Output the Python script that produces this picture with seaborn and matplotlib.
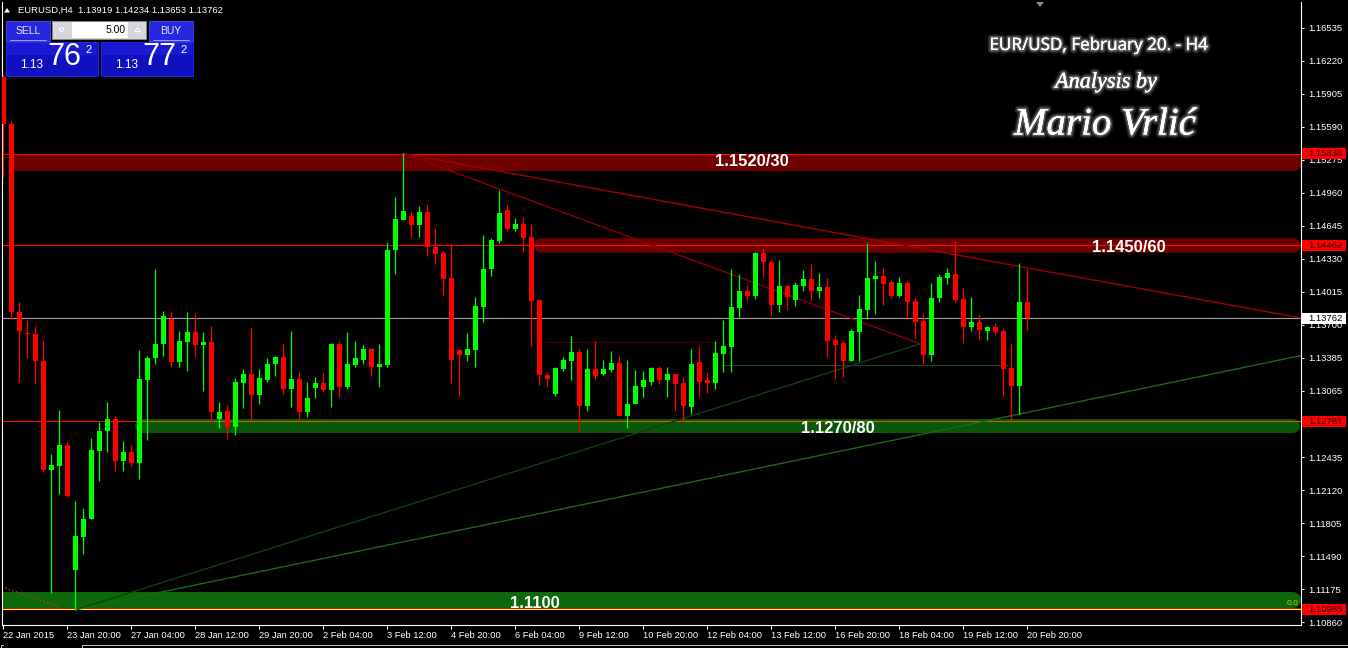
import numpy as np
import pandas as pd
import seaborn as sns
import matplotlib.pyplot as plt
import matplotlib.patheffects as pe
from matplotlib.patches import Rectangle, Polygon

# EURUSD H4 candles, 22 Jan 2015 -> 20 Feb 2015 20:00
opens = [1.1607, 1.1562, 1.1382, 1.1362, 1.1361, 1.1336, 1.1232, 1.1235, 1.1255, 1.1136,
         1.1168, 1.1185, 1.1250, 1.1269, 1.1280, 1.1240, 1.1249, 1.1238, 1.1317, 1.1338,
         1.1352, 1.1376, 1.1335, 1.1354, 1.1363, 1.1351, 1.1354, 1.1280, 1.1288, 1.1273,
         1.1315, 1.1323, 1.1303, 1.1317, 1.1333, 1.1339, 1.1309, 1.1318, 1.1287, 1.1310,
         1.1315, 1.1308, 1.1352, 1.1311, 1.1332, 1.1337, 1.1347, 1.1330, 1.1332, 1.1442,
         1.1470, 1.1474, 1.1465, 1.1478, 1.1444, 1.1439, 1.1415, 1.1346, 1.1341, 1.1346,
         1.1387, 1.1423, 1.1450, 1.1480, 1.1462, 1.1466, 1.1454, 1.1394, 1.1322, 1.1304,
         1.1328, 1.1336, 1.1344, 1.1293, 1.1328, 1.1323, 1.1327, 1.1334, 1.1283, 1.1295,
         1.1311, 1.1316, 1.1329, 1.1317, 1.1323, 1.1315, 1.1292, 1.1335, 1.1317, 1.1315,
         1.1342, 1.1349, 1.1386, 1.1402, 1.1398, 1.1439, 1.1430, 1.1389, 1.1407, 1.1394,
         1.1407, 1.1414, 1.1402, 1.1406, 1.1356, 1.1353, 1.1336, 1.1363, 1.1384, 1.1414,
         1.1417, 1.1411, 1.1398, 1.1410, 1.1393, 1.1374, 1.1341, 1.1396, 1.1415, 1.1419,
         1.1395, 1.1368, 1.1373, 1.1364, 1.1368, 1.1364, 1.1329, 1.1312, 1.13919]
highs = [1.1609, 1.1565, 1.1392, 1.1375, 1.1369, 1.1356, 1.1247, 1.1289, 1.1258, 1.1202,
         1.1195, 1.1262, 1.1277, 1.1296, 1.1283, 1.1259, 1.1255, 1.1346, 1.1340, 1.1423,
         1.1383, 1.1383, 1.1364, 1.1382, 1.1381, 1.1363, 1.1369, 1.1296, 1.1294, 1.1319,
         1.1328, 1.1368, 1.1328, 1.1338, 1.1340, 1.1353, 1.1364, 1.1326, 1.1316, 1.1320,
         1.1325, 1.1353, 1.1355, 1.1363, 1.1355, 1.1351, 1.1348, 1.1352, 1.1449, 1.1492,
         1.1534, 1.1479, 1.1484, 1.1485, 1.1463, 1.1441, 1.1447, 1.1347, 1.1362, 1.1397,
         1.1456, 1.1453, 1.1499, 1.1485, 1.1472, 1.1473, 1.1466, 1.1394, 1.1325, 1.1330,
         1.1339, 1.1359, 1.1347, 1.1347, 1.1355, 1.1337, 1.1345, 1.1341, 1.1337, 1.1327,
         1.1326, 1.1330, 1.1331, 1.1330, 1.1323, 1.1320, 1.1347, 1.1350, 1.1325, 1.1355,
         1.1375, 1.1423, 1.1419, 1.1408, 1.1440, 1.1443, 1.1432, 1.1432, 1.1408, 1.1411,
         1.1422, 1.1428, 1.1420, 1.1415, 1.1360, 1.1356, 1.1366, 1.1399, 1.1448, 1.1431,
         1.1425, 1.1413, 1.1416, 1.1412, 1.1396, 1.1381, 1.1410, 1.1419, 1.1424, 1.1450,
         1.1405, 1.1397, 1.1380, 1.1369, 1.1372, 1.1367, 1.1353, 1.1429, 1.14234]
lows = [1.1511, 1.1376, 1.1316, 1.1338, 1.1314, 1.1231, 1.1114, 1.1209, 1.1206, 1.1098,
        1.1151, 1.1185, 1.1221, 1.1249, 1.1231, 1.1231, 1.1235, 1.1223, 1.1260, 1.1333,
        1.1340, 1.1330, 1.1330, 1.1326, 1.1339, 1.1307, 1.1276, 1.1272, 1.1261, 1.1265,
        1.1291, 1.1279, 1.1295, 1.1316, 1.1321, 1.1304, 1.1292, 1.1279, 1.1282, 1.1300,
        1.1306, 1.1292, 1.1301, 1.1309, 1.1330, 1.1333, 1.1321, 1.1311, 1.1330, 1.1419,
        1.1470, 1.1454, 1.1454, 1.1436, 1.1428, 1.1398, 1.1315, 1.1302, 1.1336, 1.1330,
        1.1373, 1.1417, 1.1448, 1.1460, 1.1460, 1.1440, 1.1350, 1.1313, 1.1311, 1.1302,
        1.1326, 1.1317, 1.1269, 1.1288, 1.1317, 1.1322, 1.1325, 1.1283, 1.1272, 1.1295,
        1.1301, 1.1313, 1.1314, 1.1301, 1.1288, 1.1278, 1.1285, 1.1301, 1.1305, 1.1309,
        1.1325, 1.1325, 1.1378, 1.1393, 1.1395, 1.1416, 1.1379, 1.1382, 1.1384, 1.1388,
        1.1402, 1.1394, 1.1396, 1.1339, 1.1318, 1.1320, 1.1336, 1.1336, 1.1376, 1.1380,
        1.1389, 1.1396, 1.1397, 1.1377, 1.1358, 1.1333, 1.1336, 1.1392, 1.1409, 1.1392,
        1.1353, 1.1364, 1.1356, 1.1356, 1.1360, 1.1302, 1.1278, 1.1285, 1.13653]
closes = [1.1562, 1.1382, 1.1364, 1.1361, 1.1336, 1.1232, 1.1236, 1.1255, 1.1207, 1.1169,
          1.1185, 1.1251, 1.1269, 1.1280, 1.1240, 1.1249, 1.1238, 1.1318, 1.1338, 1.1352,
          1.1379, 1.1335, 1.1355, 1.1363, 1.1351, 1.1354, 1.1287, 1.1287, 1.1273, 1.1316,
          1.1323, 1.1303, 1.1319, 1.1333, 1.1339, 1.1309, 1.1318, 1.1287, 1.1300, 1.1315,
          1.1308, 1.1352, 1.1311, 1.1333, 1.1338, 1.1347, 1.1330, 1.1333, 1.1442, 1.1471,
          1.1479, 1.1465, 1.1478, 1.1444, 1.1438, 1.1414, 1.1337, 1.1341, 1.1347, 1.1388,
          1.1423, 1.1451, 1.1477, 1.1462, 1.1466, 1.1453, 1.1393, 1.1322, 1.1318, 1.1329,
          1.1337, 1.1344, 1.1293, 1.1328, 1.1321, 1.1328, 1.1334, 1.1283, 1.1295, 1.1312,
          1.1317, 1.1329, 1.1317, 1.1323, 1.1314, 1.1293, 1.1333, 1.1316, 1.1315, 1.1343,
          1.1350, 1.1387, 1.1402, 1.1398, 1.1439, 1.1430, 1.1389, 1.1407, 1.1397, 1.1408,
          1.1414, 1.1402, 1.1406, 1.1355, 1.1351, 1.1336, 1.1364, 1.1385, 1.1415, 1.1417,
          1.1409, 1.1398, 1.1410, 1.1392, 1.1373, 1.1341, 1.1396, 1.1416, 1.1420, 1.1394,
          1.1368, 1.1373, 1.1365, 1.1368, 1.1363, 1.1328, 1.1312, 1.1392, 1.13762]

# time axis: one label every 8 bars
time_ticks = [0, 8, 16, 24, 32, 40, 48, 56, 64, 72, 80, 88, 96, 104, 112, 120, 128]
time_labels = ["22 Jan 2015", "23 Jan 20:00", "27 Jan 04:00", "28 Jan 12:00", "29 Jan 20:00",
               "2 Feb 04:00", "3 Feb 12:00", "4 Feb 20:00", "6 Feb 04:00", "9 Feb 12:00",
               "10 Feb 20:00", "12 Feb 04:00", "13 Feb 12:00", "16 Feb 20:00", "18 Feb 04:00",
               "19 Feb 12:00", "20 Feb 20:00"]

# price scale labels (MT4 step 0.00315); the 1.12750 one is hidden under the 1.12781 marker
price_ticks = [1.16535, 1.16220, 1.15905, 1.15590, 1.15275, 1.14960, 1.14645, 1.14330,
               1.14015, 1.13700, 1.13385, 1.13070, 1.12435, 1.12120, 1.11805, 1.11490,
               1.11175, 1.10860]
price_labels = ["1.16535", "1.16220", "1.15905", "1.15590", "1.15275", "1.14960", "1.14645",
                "1.14330", "1.14015", "1.13700", "1.13385", "1.13065", "1.12435",
                "1.12120", "1.11805", "1.11490", "1.11175", "1.10860"]

# support / resistance zones
zone_names = ["1.1520/30", "1.1450/60", "1.1270/80", "1.1100"]
zone_mid = [1.1526, 1.14466, 1.12731, 1.11075]
zone_start = [1.65, 67.2, 17.3, -3.0]
zone_label_x = [93.6, 140.7, 104.3, 66.5]
zone_label_y = [1.15256, 1.14435, 1.12707, 1.11046]

# marked price levels on the right scale
level_prices = [1.15336, 1.14462, 1.13762, 1.12781, 1.10985]
level_texts = ["1.15336", "1.14462", "1.13762", "1.12781", "1.10985"]

# trend lines (bar index, price)
red_ray_x, red_ray_y = [50, 128], [1.15336, 1.14245]
red_seg_x, red_seg_y = [50, 114.6], [1.15336, 1.1352]
green_seg_x, green_seg_y = [9, 114.6], [1.1098, 1.1352]
green_ray_x, green_ray_y = [9, 127], [1.1098, 1.1285]

sns.set_theme(style="dark", rc={"axes.facecolor": "black", "figure.facecolor": "black"})
plt.rcParams['font.family'] = ['Liberation Sans', 'DejaVu Sans']

W, H = 1348, 648
fig = plt.figure(figsize=(W / 100, H / 100), dpi=100)
fig.patch.set_facecolor("black")
ax = fig.add_axes([2 / W, 1 - 625 / H, 1299 / W, 623 / H])
ax.set_facecolor("black")
x_right = 162.2
ax.set_xlim(-0.1625, x_right)
ax.set_ylim(1.10836, 1.16783)

# zones drawn as thick rounded bars
zone_colors = ["#6e0000", "#6e0000", "#0a560a", "#0b680b"]
zone_px = [17, 14.5, 14, 16]
for y, x0, c, w in zip(zone_mid, zone_start, zone_colors, zone_px):
    ax.plot([x0, 161.2], [y, y], color=c, lw=w * 0.72, solid_capstyle="round", zorder=1)
for name, lx, ly in zip(zone_names, zone_label_x, zone_label_y):
    ax.text(lx, ly, name, color="white", fontsize=12, fontweight="bold",
            ha="center", va="center", zorder=7)

# horizontal levels
ax.axhline(level_prices[0], color="#ff0000", lw=0.8, zorder=2)
ax.axhline(level_prices[1], color="#ff0000", lw=0.8, zorder=2)
ax.axhline(level_prices[2], color="#a0a0a0", lw=0.8, zorder=2)
ax.plot([-1, 16.5], [level_prices[3]] * 2, color="#ff0000", lw=0.8, zorder=2)
ax.plot([16.5, 170], [level_prices[3]] * 2, color="#c86400", lw=0.8, zorder=2)
ax.axhline(1.1100, color="#d00000", lw=0.8, zorder=2)
ax.axhline(level_prices[4], color="#ffff00", lw=0.8, zorder=2)
ax.text(161.9, 1.11037, "0.0", color="#c0d000", fontsize=6, ha="right", va="center", zorder=7)

# faint horizontal guides
ax.plot([67.9, 90], [1.13542, 1.13542], color="#4a0000", lw=0.8, zorder=2)
ax.plot([89.7, 125.6], [1.13315, 1.13315], color="#1e4a1e", lw=0.8, zorder=2)
ax.plot([-0.2, 7.1], [1.1120, 1.1101], color="#d03c00", lw=1, ls=":", zorder=2)


def ray(xs, ys):
    k = (ys[1] - ys[0]) / (xs[1] - xs[0])
    return [xs[0], x_right + 1], [ys[0], ys[0] + k * (x_right + 1 - xs[0])]


rx, ry = ray(red_ray_x, red_ray_y)
gx, gy = ray(green_ray_x, green_ray_y)
sns.lineplot(x=rx, y=ry, ax=ax, color="#a00000", lw=1.0, zorder=3)
sns.lineplot(x=red_seg_x, y=red_seg_y, ax=ax, color="#8b0000", lw=1.0, zorder=3)
sns.lineplot(x=green_seg_x, y=green_seg_y, ax=ax, color="#0f3f0f", lw=1.0, zorder=3)
sns.lineplot(x=gx, y=gy, ax=ax, color="#1a6a1a", lw=1.0, zorder=3)

# candles
df = pd.DataFrame({"open": opens, "high": highs, "low": lows, "close": closes})
df["bar"] = np.arange(len(df))
col = np.where(df["close"] > df["open"], "#00ff00", "#ff0000")
ax.vlines(df["bar"], df["low"], df["high"], colors=col, lw=0.9, zorder=4)
body_lo = df[["open", "close"]].min(axis=1)
body_h = (df["close"] - df["open"]).abs().clip(lower=0.0001)
ax.bar(df["bar"], body_h, bottom=body_lo, width=0.625, color=col, lw=0, zorder=5)

# axes styling
for s in ["left", "right", "bottom"]:
    ax.spines[s].set_color("white")
    ax.spines[s].set_linewidth(0.8)
ax.spines["top"].set_visible(False)
ax.grid(False)
ax.yaxis.tick_right()
ax.set_yticks(price_ticks)
ax.set_yticklabels(price_labels)
ax.set_xticks(time_ticks)
ax.set_xticklabels(time_labels, ha="left")
ax.tick_params(axis="y", colors="white", labelsize=6.8, length=2.5, width=0.8, pad=3,
               direction="out", right=True, left=False)
ax.tick_params(axis="x", colors="white", labelsize=6.7, length=2.9, width=0.8, pad=1.2,
               direction="out", bottom=True)
ax.set_xlabel("")
ax.set_ylabel("")

box_fc = ["#ff0000", "#ff0000", "#ffffff", "#ff0000", "#ff0000"]
box_tc = ["#300000", "#300000", "#000000", "#300000", "#300000"]
ytr = ax.get_yaxis_transform()
for p, t, fc, tc in zip(level_prices, level_texts, box_fc, box_tc):
    ax.add_patch(Rectangle((1.0008, p - 0.000525), 0.0339, 0.00105, transform=ytr,
                           fc=fc, ec="none", clip_on=False, zorder=10))
    ax.text(1.0054, p, t, transform=ytr, color=tc, fontsize=6.8, ha="left", va="center",
            clip_on=False, zorder=11)

# screen overlay (header, one-click panel, title)
ov = fig.add_axes([0, 0, 1, 1], zorder=5)
ov.set_xlim(0, W)
ov.set_ylim(H, 0)
ov.axis("off")
ov.patch.set_alpha(0)

ov.add_patch(Polygon([(4, 12.5), (10, 12.5), (7, 8)], closed=True, fc="white", ec="none"))
ov.text(18, 10.5, "EURUSD,H4  1.13919 1.14234 1.13653 1.13762", color="white",
        fontsize=6.8, ha="left", va="center")

# sell / buy buttons
for x0 in [6, 149]:
    ov.add_patch(Rectangle((x0, 21), 44, 20, fc="#2626dc", ec="#4a4af0", lw=0.6))
    ov.plot([x0 + 4, x0 + 40], [39.5, 39.5], color="#9a9aff", lw=0.7)
ov.text(28, 30.5, "SELL", color="#e6e6ff", fontsize=7.5, ha="center", va="center")
ov.text(171, 30.5, "BUY", color="#e6e6ff", fontsize=7.5, ha="center", va="center")
ov.add_patch(Rectangle((52, 21), 94, 18, fc="#d6d6dc", ec="#8a8a8a", lw=0.6))
ov.add_patch(Rectangle((72, 22), 56, 16, fc="white", ec="none"))
ov.add_patch(Polygon([(59, 28.5), (64, 28.5), (61.5, 31.5)], closed=True, fc="#5570a8"))
ov.add_patch(Polygon([(135, 31.5), (140, 31.5), (137.5, 28.5)], closed=True, fc="#5570a8"))
ov.text(126, 30, "5.00", color="black", fontsize=7.5, ha="right", va="center")

for x0, big in [(6, "76"), (101, "77")]:
    ov.add_patch(Rectangle((x0, 42), 92, 34, fc="#1010c0", ec="#2a2aff", lw=0.6))
    ov.add_patch(Rectangle((x0 + 1, 43), 90, 12, fc="#1a1ad2", ec="none"))
    ov.text(x0 + 14, 64.5, "1.13", color="white", fontsize=8.5, ha="left", va="center")
    ov.text(x0 + 41, 57, big, color="white", fontsize=22, ha="left", va="center")
    ov.text(x0 + 79, 50, "2", color="white", fontsize=8, ha="left", va="center")

# chart-shift marker and bottom tab strip
ov.add_patch(Polygon([(1036, 2), (1044, 2), (1040, 7)], closed=True, fc="#8a8a8a", ec="none"))
ov.plot([82, 82, W], [648, 645, 645], color="#c8c8c8", lw=0.7)
ov.plot([0.5, 0.5, 3], [648, 645, 645], color="#c8c8c8", lw=0.7)

glow = [pe.withStroke(linewidth=5, foreground="white", alpha=0.12),
        pe.withStroke(linewidth=2.5, foreground="white", alpha=0.25), pe.Normal()]
ov.text(1099, 46, "EUR/USD, February 20. - H4", color="white", fontsize=12.3,
        family=["Open Sans", "DejaVu Sans"], ha="center", va="center", path_effects=glow)
ov.text(1106, 83, "Analysis by", color="white", fontsize=16, style="italic",
        family=["Liberation Serif", "DejaVu Serif"], ha="center", va="center",
        path_effects=glow)
ov.text(1105, 125, "Mario Vrlić", color="white", fontsize=28, style="italic",
        family=["Liberation Serif", "DejaVu Serif"], ha="center", va="center",
        path_effects=glow)

fig.savefig("out.png", dpi=100, facecolor="black")
